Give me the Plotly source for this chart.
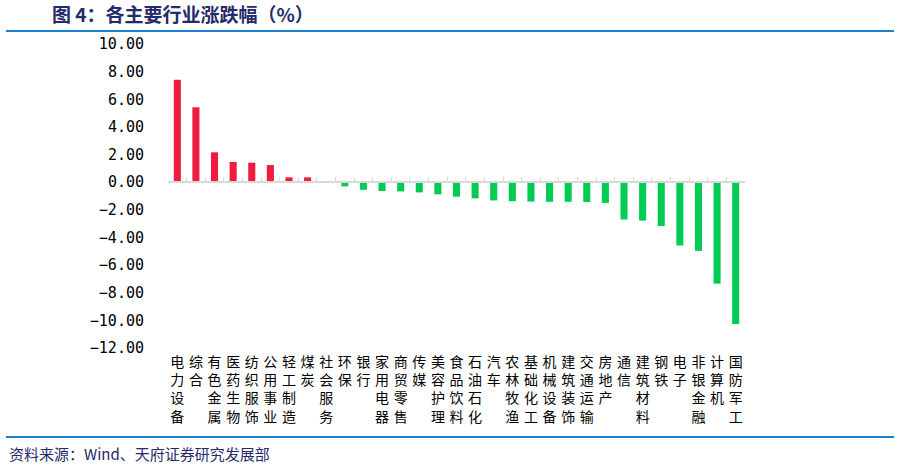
import plotly.graph_objects as go

# ---- data ----
categories = ["电力设备", "综合", "有色金属", "医药生物", "纺织服饰", "公用事业", "轻工制造", "煤炭",
              "社会服务", "环保", "银行", "家用电器", "商贸零售", "传媒", "美容护理", "食品饮料",
              "石油石化", "汽车", "农林牧渔", "基础化工", "机械设备", "建筑装饰", "交通运输", "房地产",
              "通信", "建筑材料", "钢铁", "电子", "非银金融", "计算机", "国防军工"]
values = [7.41, 5.42, 2.16, 1.46, 1.41, 1.24, 0.35, 0.35,
          0.08, -0.30, -0.55, -0.64, -0.67, -0.74, -0.88, -1.05,
          -1.17, -1.32, -1.38, -1.40, -1.42, -1.42, -1.43, -1.50,
          -2.70, -2.78, -3.17, -4.58, -4.97, -7.34, -10.27]
y_ticks = [10, 8, 6, 4, 2, 0, -2, -4, -6, -8, -10, -12]
y_min, y_max = -12, 10

title_text = "图 4：各主要行业涨跌幅（%）"
source_text = "资料来源：Wind、天府证券研究发展部"

# ---- layout geometry ----
W, H = 900, 468
L, R, T, B = 168, 155, 44, 120
pw, ph = W - L - R, H - T - B


def px_x(x):
    return (x - L) / pw


def px_y(y):
    return (H - B - y) / ph


RED = "#EE1C3E"
GREEN = "#00CC55"
NAVY = "#252a6a"
BLUE = "#1a80d0"
FONT = "Noto Sans CJK SC"

colors = [RED if v >= 0 else GREEN for v in values]
ticktext = ["<br>".join(list(c)) for c in categories]
x_range = [-0.5, len(categories) - 0.5]

fig = go.Figure()
fig.add_trace(go.Bar(x=categories, y=values, marker=dict(color=colors, line=dict(width=0)),
                     xaxis="x", yaxis="y", hoverinfo="x+y"))
fig.add_trace(go.Scatter(x=categories, y=[0] * len(categories), mode="markers",
                         marker=dict(opacity=0), xaxis="x2", yaxis="y",
                         hoverinfo="skip", showlegend=False))

zero_pos = (0 - y_min) / (y_max - y_min)

fig.update_layout(
    width=W, height=H,
    margin=dict(l=L, r=R, t=T, b=B),
    plot_bgcolor="white", paper_bgcolor="white",
    showlegend=False,
    bargap=0.62,
    font=dict(family=FONT, color="#000000"),
    xaxis=dict(
        type="category", categoryorder="array", categoryarray=categories,
        range=x_range, autorange=False,
        anchor="free", position=zero_pos,
        showline=True, linecolor="#d9d9d9", linewidth=1.5,
        ticks="inside", tickson="boundaries", ticklen=4, tickcolor="#d9d9d9", tickwidth=1,
        showticklabels=False, showgrid=False, zeroline=False,
    ),
    xaxis2=dict(
        type="category", categoryorder="array", categoryarray=categories,
        range=x_range, autorange=False,
        overlaying="x", anchor="y", side="bottom",
        tickvals=categories, ticktext=ticktext,
        tickfont=dict(size=14, color="#000000", family=FONT),
        tickangle=0, ticks="", showline=False, showgrid=False, zeroline=False,
        ticklabelstandoff=4,
    ),
    yaxis=dict(
        range=[y_min, y_max], tickvals=y_ticks, tickformat=".2f",
        showgrid=False, zeroline=False, showline=False, ticks="",
        tickfont=dict(size=15, color="#000000", family="DejaVu Sans Mono"),
        ticklabelstandoff=23,
    ),
    title=dict(text="<b>" + title_text + "</b>", xref="container", yref="container",
               x=52 / W, xanchor="left", y=1 - 15 / H, yanchor="middle",
               font=dict(size=19, color=NAVY, family=FONT)),
    shapes=[
        dict(type="line", xref="paper", yref="paper", x0=px_x(6), x1=px_x(894),
             y0=px_y(31), y1=px_y(31), line=dict(color=BLUE, width=2)),
        dict(type="line", xref="paper", yref="paper", x0=px_x(6), x1=px_x(894),
             y0=px_y(437), y1=px_y(437), line=dict(color=BLUE, width=2)),
    ],
    annotations=[
        dict(text=source_text, xref="paper", yref="paper", x=px_x(7), y=px_y(453),
             xanchor="left", yanchor="middle", showarrow=False,
             font=dict(size=15, color=NAVY, family=FONT)),
    ],
)

fig.write_html("out.html", config={"displayModeBar": False},
               post_script="document.body.style.margin='0';")
